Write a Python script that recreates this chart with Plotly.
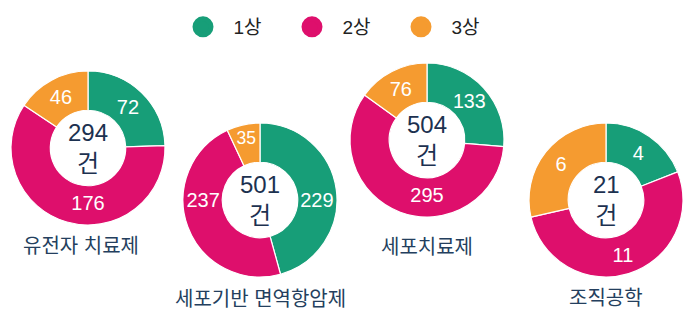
import plotly.graph_objects as go

# Clinical trial counts by phase for each product type
categories = ["유전자 치료제", "세포기반 면역항암제", "세포치료제", "조직공학"]
phases = ["1상", "2상", "3상"]
phase1 = [72, 229, 133, 4]
phase2 = [176, 237, 295, 11]
phase3 = [46, 35, 76, 6]
unit = "건"

colors = ["#179e78", "#de0f6c", "#f59b30"]
FONT = "Liberation Sans, Noto Sans CJK KR, sans-serif"

W, H = 698, 326
# Donut placement in pixels: centre x, centre y (from top), radius
layout_px = [(88, 148, 77), (260, 200, 77), (427, 140, 77), (606, 200, 77)]
# Category caption placement in pixels: centre x, centre y (from top)
caption_px = [(81, 246), (260, 299), (427, 247), (606, 298)]

fig = go.Figure()

annotations = []
for i, cat in enumerate(categories):
    vals = [phase1[i], phase2[i], phase3[i]]
    total = sum(vals)
    cx, cy, r = layout_px[i]
    dom_x = [(cx - r) / W, (cx + r) / W]
    dom_y = [1 - (cy + r) / H, 1 - (cy - r) / H]
    fig.add_trace(go.Pie(
        labels=phases,
        values=vals,
        hole=0.49,
        sort=False,
        direction="clockwise",
        rotation=0,
        marker=dict(colors=colors, line=dict(color="white", width=1.2)),
        textinfo="value",
        textposition="inside",
        insidetextorientation="horizontal",
        textfont=dict(family=FONT, size=20, color="white"),
        domain=dict(x=dom_x, y=dom_y),
        showlegend=False,
        hoverinfo="label+value",
    ))
    annotations.append(dict(
        x=cx / W, y=1 - cy / H, xref="paper", yref="paper",
        text=f"{total}<br>{unit}", showarrow=False,
        font=dict(family=FONT, size=24, color="#1c3150"),
        align="center", xanchor="center", yanchor="middle",
    ))
    lx, ly = caption_px[i]
    annotations.append(dict(
        x=lx / W, y=1 - ly / H,
        xref="paper", yref="paper",
        text=cat, showarrow=False,
        font=dict(family=FONT, size=20, color="#243f5e"),
        xanchor="center", yanchor="middle",
    ))

# Legend entries with round markers
for name, col in zip(phases, colors):
    fig.add_trace(go.Scatter(
        x=[None], y=[None], mode="markers", name="\u00a0\u00a0" + name,
        marker=dict(symbol="circle", size=16, color=col,
                    line=dict(color=col, width=6)),
        showlegend=True, hoverinfo="skip",
    ))

fig.update_layout(
    width=W, height=H,
    margin=dict(l=0, r=0, t=0, b=0),
    paper_bgcolor="white",
    plot_bgcolor="white",
    xaxis=dict(visible=False),
    yaxis=dict(visible=False),
    annotations=annotations,
    legend=dict(
        orientation="h", x=183 / W, xanchor="left", y=1 - 8 / H, yanchor="top",
        font=dict(family=FONT, size=19, color="#222222"),
        itemsizing="trace", entrywidth=64, entrywidthmode="pixels",
        bgcolor="rgba(0,0,0,0)",
    ),
)

fig.write_html("out.html")
